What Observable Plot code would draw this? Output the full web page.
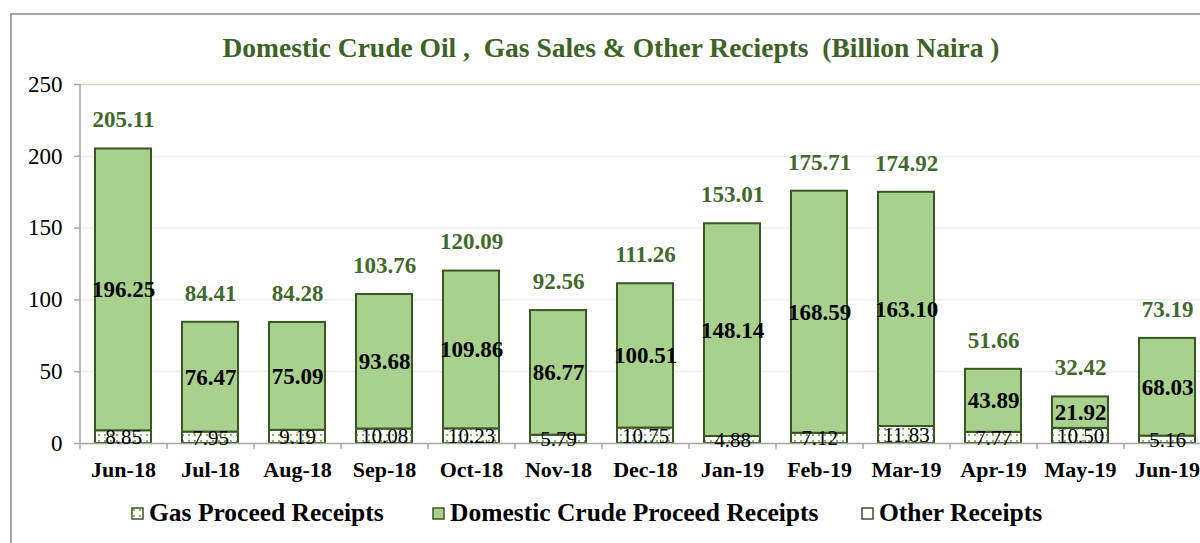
<!DOCTYPE html>
<html>
<head>
<meta charset="utf-8">
<script src="https://cdn.jsdelivr.net/npm/d3@7"></script>
<script src="https://cdn.jsdelivr.net/npm/@observablehq/plot@0.6"></script>
<style>
  html, body { margin: 0; padding: 0; background: #fff; overflow: hidden; width: 1200px; height: 543px; position: relative; }
  #frame { position: absolute; left: 10px; top: 13px; width: 1400px; height: 700px; border: 2px solid #a6a6a6; box-sizing: border-box; }
  #title { position: absolute; left: 0; width: 1222px; top: 32px; text-align: center; white-space: pre;
           font-family: "Liberation Serif", serif; font-weight: bold; font-size: 27.5px; color: #3d6326; }
  #chart { position: absolute; left: 0; top: 0; width: 1230px; height: 543px; }
  #chart svg { max-width: none !important; }
  .leg { position: absolute; top: 498px; font-family: "Liberation Serif", serif; font-weight: bold; font-size: 25.5px; color: #000; white-space: pre; display: flex; align-items: center; }
  .leg svg { margin-right: 5px; }
</style>
</head>
<body>
<svg width="0" height="0" style="position:absolute">
  <defs>
    <pattern id="gasDots" width="6" height="6" patternUnits="userSpaceOnUse">
      <rect width="6" height="6" fill="#ffffff"/>
      <rect x="2" y="2" width="2" height="2" fill="#86b866"/>
    </pattern>
  </defs>
</svg>
<div id="frame"></div>
<div id="chart"></div>
<div id="title">Domestic Crude Oil ,  Gas Sales &amp; Other Reciepts  (Billion Naira )</div>
<div id="legend"></div>
<script>
const months = ["Jun-18","Jul-18","Aug-18","Sep-18","Oct-18","Nov-18","Dec-18","Jan-19","Feb-19","Mar-19","Apr-19","May-19","Jun-19"];
const gas    = [8.85, 7.95, 9.19, 10.08, 10.23, 5.79, 10.75, 4.88, 7.12, 11.83, 7.77, 10.50, 5.16];
const crude  = [196.25, 76.47, 75.09, 93.68, 109.86, 86.77, 100.51, 148.14, 168.59, 163.10, 43.89, 21.92, 68.03];
const other  = [0, 0, 0, 0, 0, 0, 0, 0, 0, 0, 0, 0, 0];
const totals = [205.11, 84.41, 84.28, 103.76, 120.09, 92.56, 111.26, 153.01, 175.71, 174.92, 51.66, 32.42, 73.19];
const yTicks = [0, 50, 100, 150, 200, 250];
const seriesNames = ["Gas Proceed Receipts", "Domestic Crude Proceed Receipts", "Other Receipts"];

const rows = months.map((m, i) => ({month: m, gas: gas[i], crude: crude[i], other: other[i], total: totals[i]}));

const W = 1230, mL = 80, mR = 19;
const step = (W - mL - mR) / months.length;
const green = "#a9d18e", dark = "#385723", axisGray = "#a6a6a6";

const plot = Plot.plot({
  width: W, height: 543,
  marginTop: 84, marginBottom: 100, marginLeft: mL, marginRight: mR,
  style: {fontFamily: "Liberation Serif, serif", fontSize: "23px", background: "transparent", color: "#000", overflow: "visible"},
  x: {domain: months, paddingInner: 0.356, paddingOuter: 0.178, tickSize: 0, tickPadding: 18, label: null},
  y: {domain: [0, 250], ticks: yTicks, tickSize: 6, tickPadding: 12, label: null},
  marks: [
    Plot.ruleY(yTicks.filter(t => t > 0 && t < 250), {stroke: "#e4e4e4", strokeWidth: 1}),
    Plot.ruleY([250], {stroke: "#c5e0b4", strokeWidth: 1.5}),
    Plot.barY(rows, {x: "month", y1: 0, y2: "gas", fill: "url(#gasDots)", stroke: dark, strokeWidth: 2}),
    Plot.barY(rows, {x: "month", y1: d => d.gas, y2: d => d.gas + d.crude, fill: green, stroke: dark, strokeWidth: 2}),
    Plot.barY(rows, {x: "month", y1: d => d.gas + d.crude, y2: d => d.gas + d.crude + d.other, fill: "#fff", stroke: dark, strokeWidth: 2}),
    Plot.ruleY([0], {stroke: axisGray, strokeWidth: 1.5}),
    Plot.ruleX([months[0]], {dx: -step / 2, y1: 0, y2: 250, stroke: axisGray, strokeWidth: 1.5}),
    Plot.ruleX(months, {dx: -step / 2, y1: 0, y2: -4, stroke: axisGray, strokeWidth: 1.5}),
    Plot.ruleX([months[months.length - 1]], {dx: step / 2, y1: 0, y2: -4, stroke: axisGray, strokeWidth: 1.5}),
    Plot.text(rows, {x: "month", y: d => d.gas / 2, text: d => d.gas.toFixed(2), fontSize: 21, fill: "#000"}),
    Plot.text(rows, {x: "month", y: d => d.gas + d.crude / 2, text: d => d.crude.toFixed(2), fontSize: 23, fontWeight: "bold", fill: "#000"}),
    Plot.text(rows, {x: "month", y: "total", text: d => d.total.toFixed(2), dy: -29, fontSize: 23, fontWeight: "bold", fill: "#3f6a2c"})
  ]
});
plot.style.maxWidth = "none";
const svg = d3.select(plot);
svg.selectAll('[aria-label^="x-axis"] text').attr("font-weight", "bold").attr("fill", "#000").attr("font-size", "22px");
svg.selectAll('[aria-label^="y-axis"] line, [aria-label^="y-axis"] path').attr("stroke", axisGray).attr("stroke-width", 1.5);
svg.selectAll('[aria-label^="y-axis"] text').attr("fill", "#000");
document.getElementById("chart").appendChild(plot);

// legend
const legend = document.getElementById("legend");
const lefts = [131, 432, 861];
const fills = ["url(#gasDots)", green, "#fff"];
seriesNames.forEach((name, i) => {
  const item = document.createElement("div");
  item.className = "leg";
  item.style.left = lefts[i] + "px";
  item.innerHTML = `<svg width="13" height="13"><rect x="1" y="1" width="11" height="11" fill="${fills[i]}" stroke="${dark}" stroke-width="1.5"/></svg><span>${name}</span>`;
  legend.appendChild(item);
});
</script>
</body>
</html>
